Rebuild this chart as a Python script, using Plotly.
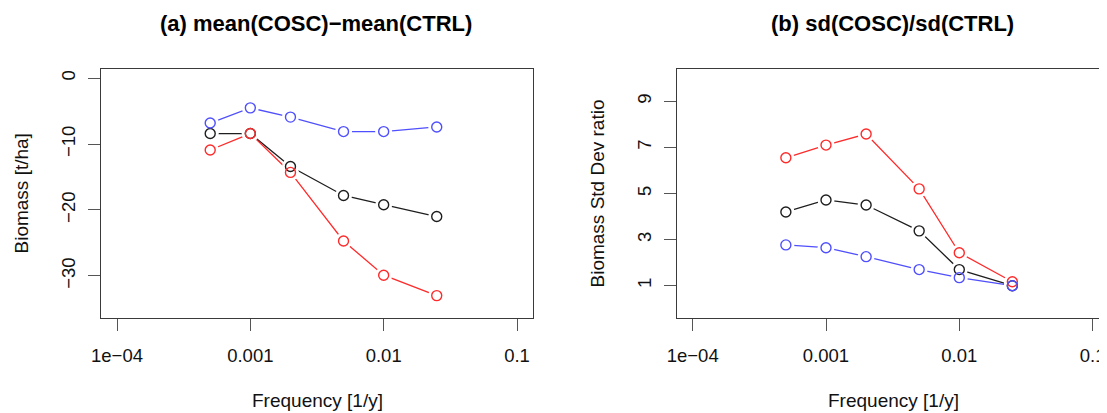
import plotly.graph_objects as go

W, H = 1107, 413
OFF_X, OFF_Y = 8, 8  # page body margin of the figure in the browser

# ---- data ----
frequency = [0.0005, 0.001, 0.002, 0.005, 0.01, 0.025]

mean_black = [-8.4, -8.4, -13.4, -17.8, -19.2, -21.0]
mean_red = [-10.9, -8.4, -14.3, -24.7, -29.9, -33.0]
mean_blue = [-6.8, -4.5, -5.9, -8.1, -8.1, -7.4]

sd_black = [4.2, 4.72, 4.5, 3.38, 1.7, 1.0]
sd_red = [6.55, 7.1, 7.58, 5.2, 2.43, 1.17]
sd_blue = [2.77, 2.65, 2.26, 1.7, 1.35, 1.0]

x_tickvals = [1e-4, 1e-3, 1e-2, 1e-1]
x_ticktext = ["1e\u221204", "0.001", "0.01", "0.1"]
y1_tickvals = [0, -10, -20, -30]
y1_ticktext = ["0", "\u221210", "\u221220", "\u221230"]
y2_tickvals = [1, 3, 5, 7, 9]
y2_ticktext = ["1", "3", "5", "7", "9"]

titles = ["<b>(a) mean(COSC)\u2212mean(CTRL)</b>", "<b>(b) sd(COSC)/sd(CTRL)</b>"]
y_titles = ["Biomass [t/ha]", "Biomass Std Dev ratio"]
x_title = "Frequency [1/y]"

# ---- style ----
FONT = "Liberation Sans, Arial, Helvetica, sans-serif"
COL = {"black": "#1e1e1e", "red": "#ff2a2a", "blue": "#4f4fff"}
AXC = "#3a3a3a"


def px(x):
    return (x - OFF_X) / W


def py(y):
    return 1 - (y - OFF_Y) / H


fig = go.Figure()

panels = [
    ("x", "y", [("black", mean_black), ("red", mean_red), ("blue", mean_blue)]),
    ("x2", "y2", [("black", sd_black), ("red", sd_red), ("blue", sd_blue)]),
]

# lines
for xa, ya, series in panels:
    for c, vals in series:
        fig.add_trace(go.Scatter(x=frequency, y=vals, mode="lines", xaxis=xa, yaxis=ya,
                                 line=dict(color=COL[c], width=1.3), showlegend=False,
                                 hoverinfo="skip"))
# white masks to create gaps around points (R type="b")
for xa, ya, series in panels:
    for c, vals in series:
        fig.add_trace(go.Scatter(x=frequency, y=vals, mode="markers", xaxis=xa, yaxis=ya,
                                 marker=dict(symbol="circle", size=17, color="white",
                                             line=dict(width=0)),
                                 showlegend=False, hoverinfo="skip"))
# open circles
for xa, ya, series in panels:
    for c, vals in series:
        fig.add_trace(go.Scatter(x=frequency, y=vals, mode="markers", xaxis=xa, yaxis=ya,
                                 marker=dict(symbol="circle-open", size=10, color=COL[c],
                                             line=dict(width=1.4, color=COL[c])),
                                 showlegend=False))

common_x = dict(type="log", tickvals=x_tickvals, ticktext=x_ticktext, ticks="outside",
                ticklen=12, tickwidth=1.2, tickcolor="#555", showline=True, linecolor=AXC,
                linewidth=1.3, showgrid=False, zeroline=False, automargin=False,
                tickfont=dict(family=FONT, size=18.5, color="#111"),
                ticklabelstandoff=9)
common_y = dict(ticks="outside", ticklen=12, tickwidth=1.2, tickcolor="#555", showline=True,
                linecolor=AXC, linewidth=1.3, showgrid=False, zeroline=False, tickangle=-90,
                automargin=False,
                tickfont=dict(family=FONT, size=18.5, color="#111"),
                ticklabelstandoff=5)

DEC = 133.3  # pixels per decade
y_dom = [py(318), py(69)]
x1_dom = [px(101), px(533)]
x2_left = 676.7
x2_dom = [px(x2_left), 1.0]
x2_right_px = W + OFF_X  # screen pixel where domain ends

fig.update_layout(
    width=W, height=H, margin=dict(l=0, r=0, t=0, b=0, pad=0, autoexpand=False),
    autosize=False,
    paper_bgcolor="white", plot_bgcolor="white",
    xaxis=dict(domain=x1_dom, range=[-4.12, -0.88], anchor="y", mirror=True, **common_x),
    yaxis=dict(domain=y_dom, range=[-36.4, 1.4], anchor="x", mirror=True,
               tickvals=y1_tickvals, ticktext=y1_ticktext, **common_y),
    xaxis2=dict(domain=x2_dom, range=[-4.12, -4.12 + (x2_right_px - x2_left) / DEC],
                anchor="y2", mirror=True, **common_x),
    yaxis2=dict(domain=y_dom, range=[-0.4, 10.4], anchor="x2", mirror=False,
                tickvals=y2_tickvals, ticktext=y2_ticktext, **common_y),
    showlegend=False,
)

ann = []
for t, cx in zip(titles, [316, 892]):
    ann.append(dict(text=t, x=px(cx), y=py(24), xref="paper", yref="paper", showarrow=False,
                    xanchor="center", yanchor="middle",
                    font=dict(family=FONT, size=22, color="#000")))
for cx in [317, 893]:
    ann.append(dict(text=x_title, x=px(cx), y=py(400), xref="paper", yref="paper",
                    showarrow=False, xanchor="center", yanchor="middle",
                    font=dict(family=FONT, size=19, color="#111")))
for t, cx in zip(y_titles, [21, 597]):
    ann.append(dict(text=t, x=px(cx), y=py(193.5), xref="paper", yref="paper",
                    showarrow=False, xanchor="center", yanchor="middle", textangle=-90,
                    font=dict(family=FONT, size=19, color="#111")))
fig.update_layout(annotations=ann)

fig.write_html("out.html")
